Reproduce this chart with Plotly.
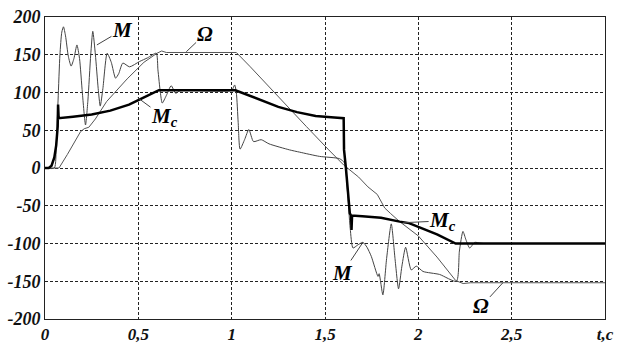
import plotly.graph_objects as go

# ---- data ----
t_M = [0, 0.05, 0.06, 0.07, 0.08, 0.09, 0.099, 0.11, 0.125, 0.14, 0.155, 0.171, 0.185, 0.2, 0.217,
       0.23, 0.245, 0.256, 0.27, 0.285, 0.296, 0.31, 0.333, 0.355, 0.378, 0.395, 0.417, 0.453, 0.506,
       0.55, 0.596, 0.605, 0.618, 0.628, 0.65, 0.676, 0.7, 0.72, 0.75, 1.0, 1.016, 1.025, 1.035, 1.045,
       1.07, 1.092, 1.117, 1.158, 1.2, 1.31, 1.364, 1.47, 1.578, 1.605, 1.62, 1.635, 1.65, 1.675, 1.703,
       1.725, 1.748, 1.784, 1.79, 1.81, 1.83, 1.855, 1.875, 1.894, 1.912, 1.932, 1.962, 1.989, 2.025,
       2.114, 2.204, 2.22, 2.239, 2.255, 2.275, 2.302, 2.33, 2.35]
M = [0, 0, 30, 90, 150, 180, 187, 175, 148, 135, 145, 163, 145, 100, 57,
     90, 150, 181, 150, 105, 82, 105, 152, 140, 119, 125, 139, 134, 141,
     146, 152, 130, 100, 86, 96, 109, 99, 102, 103, 103, 110, 100, 60, 25,
     38, 51, 35, 37.5, 32, 24, 21, 15.4, 12.3, 6.6, -30, -80, -106, -102, -98.5,
     -105, -117, -143.6, -140, -168, -120, -74, -120, -160, -130, -105, -135, -130, -137,
     -141, -150, -110, -84, -95, -106, -98.5, -99.5, -100]

t_Mc = [0, 0.02, 0.035, 0.05, 0.06, 0.068, 0.07, 0.073, 0.15, 0.25, 0.35, 0.45, 0.5, 0.55, 0.61,
        1.02, 1.06, 1.15, 1.25, 1.35, 1.45, 1.55, 1.6, 1.602, 1.612, 1.633, 1.64, 1.642, 1.645,
        1.7, 1.8, 1.9, 1.95, 2.0, 2.1, 2.2, 3.0]
Mc = [0, 0, 3, 14, 30, 55, 84, 66, 68, 71, 76, 84, 90, 96, 103,
      103, 99, 90, 81, 74, 69, 67, 66, 24, 0, -60, -63, -82, -63,
      -64, -66, -71, -73, -78, -88, -100, -100]

t_W = [0, 0.075, 0.12, 0.19, 0.21, 0.235, 0.27, 0.33, 0.44, 0.53, 0.6, 0.625, 0.65, 1.025, 1.1,
       1.22, 1.4, 1.52, 1.6, 1.68, 1.73, 1.78, 1.82, 1.85, 1.9, 2.0, 2.1, 2.2, 2.24, 2.28, 3.0]
W = [0, 0, 18, 48, 52, 54, 65, 88, 118, 140, 152, 155, 153, 153, 134,
     102, 55, 24, 4, -12, -25, -35, -53, -60, -71, -90, -118, -149, -153, -152, -152]

x_ticks = [0, 0.5, 1, 1.5, 2, 2.5, 3]
x_labels = ["0", "0,5", "1", "1,5", "2", "2,5", "t,c"]
y_ticks = [-200, -150, -100, -50, 0, 50, 100, 150, 200]
y_labels = ["-200", "-150", "-100", "-50", "0", "50", "100", "150", "200"]

FONT = "Liberation Serif"

fig = go.Figure()
fig.add_trace(go.Scatter(x=t_W, y=W, mode="lines", line=dict(color="#555555", width=1), hoverinfo="skip"))
fig.add_trace(go.Scatter(x=t_M, y=M, mode="lines", line=dict(color="#444444", width=1, shape="spline", smoothing=0.6),
                         hoverinfo="skip"))
fig.add_trace(go.Scatter(x=t_Mc, y=Mc, mode="lines", line=dict(color="#000000", width=2.5), hoverinfo="skip"))

labels = [
    ("M", 0.415, 183, 0.278, 163),
    ("Ω", 0.855, 177, 0.757, 154),
    ("M<sub>c</sub>", 0.64, 67, 0.497, 93),
    ("M<sub>c</sub>", 2.13, -70, 1.917, -72.5),
    ("M", 1.594, -139, 1.703, -98.5),
    ("Ω", 2.338, -183, 2.453, -152),
]
for txt, tx, ty, hx, hy in labels:
    fig.add_annotation(x=hx, y=hy, ax=tx, ay=ty, axref="x", ayref="y", xref="x", yref="y",
                       text=txt, showarrow=True, arrowhead=0, arrowwidth=1, arrowcolor="#444444",
                       standoff=0, startstandoff=0, borderpad=0,
                       font=dict(family=FONT, size=21, color="black", weight="bold", style="italic"))

axis_common = dict(showline=True, mirror=True, linecolor="#222222", linewidth=1,
                   showgrid=True, gridcolor="#222222", gridwidth=1, griddash="3px,2px",
                   zeroline=False, ticks="", automargin=False)

fig.update_xaxes(range=[0, 3], tickmode="array", tickvals=x_ticks, ticktext=x_labels,
                 tickfont=dict(family=FONT, size=17, color="#111111", weight="bold", style="italic"),
                 **axis_common)
fig.update_yaxes(range=[-200, 200], tickmode="array", tickvals=y_ticks, ticktext=y_labels,
                 tickfont=dict(family=FONT, size=18, color="#111111", weight="bold", style="italic"),
                 **axis_common)

fig.update_layout(width=623, height=343, margin=dict(l=45, r=18, t=17, b=24),
                  paper_bgcolor="white", plot_bgcolor="white", showlegend=False)

fig.write_html("out.html", config={"displayModeBar": False},
               post_script="document.body.style.margin='0';document.body.style.padding='0';")
